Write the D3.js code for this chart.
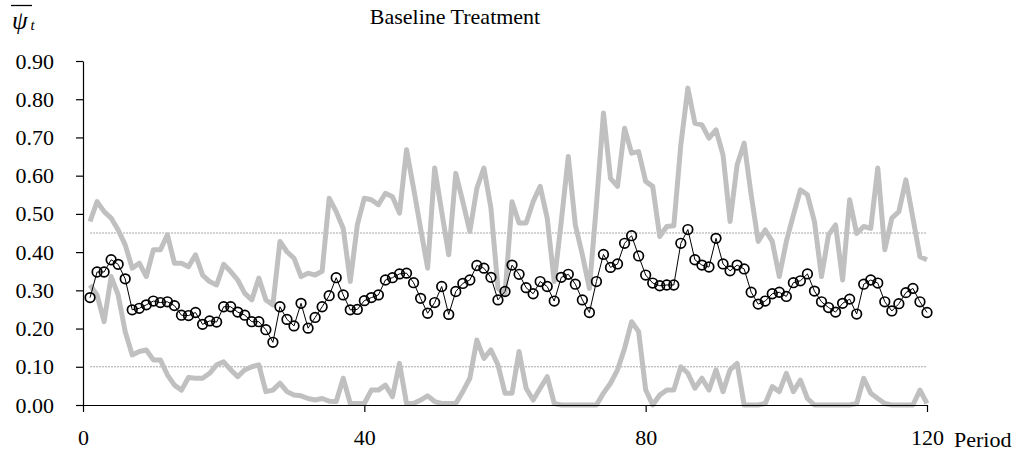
<!DOCTYPE html>
<html>
<head>
<meta charset="utf-8">
<script src="https://cdn.jsdelivr.net/npm/d3@7/dist/d3.min.js"></script>
<style>
  html, body { margin: 0; padding: 0; background: #fff; }
  svg { display: block; }
  text { font-family: "Liberation Serif", "Times New Roman", serif; fill: #000; }
</style>
</head>
<body>
<svg id="chart" width="1024" height="454"></svg>
<script>
const periods = d3.range(1, 121);

const meanPsi = [
  0.281,0.348,0.348,0.380,0.368,0.330,0.249,0.253,0.262,0.272,
  0.268,0.270,0.260,0.235,0.234,0.242,0.211,0.220,0.217,0.257,
  0.257,0.243,0.235,0.218,0.218,0.197,0.164,0.257,0.224,0.207,
  0.266,0.201,0.229,0.257,0.286,0.333,0.288,0.249,0.250,0.273,
  0.281,0.288,0.327,0.333,0.343,0.345,0.320,0.279,0.240,0.268,
  0.310,0.237,0.297,0.318,0.327,0.365,0.358,0.334,0.275,0.297,
  0.366,0.342,0.307,0.291,0.323,0.310,0.272,0.334,0.342,0.316,
  0.275,0.242,0.323,0.394,0.360,0.369,0.423,0.443,0.390,0.340,
  0.319,0.312,0.314,0.314,0.423,0.459,0.380,0.366,0.361,0.436,
  0.369,0.351,0.366,0.356,0.295,0.264,0.272,0.291,0.295,0.284,
  0.320,0.325,0.343,0.298,0.270,0.255,0.243,0.266,0.277,0.238,
  0.316,0.327,0.319,0.270,0.246,0.265,0.294,0.305,0.270,0.242
];

const upperPsi = [
  0.480,0.532,0.506,0.489,0.458,0.419,0.358,0.371,0.336,0.406,
  0.406,0.445,0.371,0.371,0.362,0.393,0.340,0.323,0.314,0.368,
  0.349,0.327,0.292,0.275,0.332,0.275,0.262,0.428,0.401,0.384,
  0.336,0.345,0.340,0.350,0.541,0.506,0.462,0.323,0.471,0.541,
  0.537,0.524,0.554,0.545,0.502,0.668,0.567,0.462,0.358,0.620,
  0.506,0.393,0.606,0.532,0.454,0.567,0.620,0.515,0.305,0.290,
  0.532,0.476,0.476,0.532,0.572,0.489,0.323,0.480,0.650,0.471,
  0.393,0.305,0.524,0.764,0.593,0.572,0.724,0.659,0.663,0.585,
  0.572,0.441,0.467,0.469,0.681,0.829,0.737,0.733,0.698,0.720,
  0.654,0.480,0.628,0.685,0.550,0.428,0.458,0.428,0.336,0.428,
  0.497,0.563,0.550,0.480,0.336,0.445,0.471,0.327,0.537,0.449,
  0.467,0.462,0.620,0.406,0.489,0.506,0.589,0.489,0.388,0.380
];

const lowerPsi = [
  0.314,0.288,0.218,0.336,0.288,0.192,0.131,0.140,0.144,0.118,
  0.118,0.079,0.052,0.039,0.072,0.070,0.070,0.083,0.105,0.113,
  0.092,0.074,0.092,0.100,0.105,0.035,0.039,0.057,0.035,0.026,
  0.024,0.017,0.013,0.017,0.010,0.009,0.070,0.004,0.004,0.004,
  0.039,0.039,0.052,0.022,0.109,0.004,0.004,0.013,0.024,0.009,
  0.004,0.004,0.004,0.035,0.070,0.170,0.122,0.144,0.105,0.031,
  0.031,0.140,0.044,0.013,0.044,0.074,0.004,0.000,0.000,0.000,
  0.000,0.000,0.000,0.031,0.057,0.092,0.148,0.218,0.192,0.040,
  0.000,0.026,0.039,0.039,0.100,0.083,0.044,0.070,0.039,0.092,
  0.035,0.092,0.109,0.000,0.000,0.000,0.004,0.048,0.035,0.083,
  0.035,0.065,0.017,0.000,0.000,0.000,0.000,0.000,0.000,0.004,
  0.070,0.031,0.017,0.004,0.000,0.000,0.000,0.000,0.039,0.004
];

const refLevels = [0.45, 0.10];
const xTicks = [0, 40, 80, 120];
const yTicks = [0, 0.1, 0.2, 0.3, 0.4, 0.5, 0.6, 0.7, 0.8, 0.9];
const titleText = "Baseline Treatment";
const xLabel = "Period";

const svg = d3.select("#chart");
const x = d3.scaleLinear().domain([0, 120]).range([83, 927]);
const y = d3.scaleLinear().domain([0, 0.9]).range([405, 61]);

// reference lines
svg.append("g").selectAll("line").data(refLevels).join("line")
  .attr("x1", x(1)).attr("x2", x(120))
  .attr("y1", d => y(d)).attr("y2", d => y(d))
  .attr("stroke", "#7f7f7f").attr("stroke-width", 0.7)
  .attr("stroke-dasharray", "2,1");

const line = d3.line().x((d, i) => x(periods[i])).y(d => y(d));

[upperPsi, lowerPsi].forEach(s => {
  svg.append("path").datum(s)
    .attr("d", line)
    .attr("fill", "none")
    .attr("stroke", "#c0c0c0")
    .attr("stroke-width", 5)
    .attr("stroke-linejoin", "round");
});

// axes
const yAxis = d3.axisLeft(y).tickValues(yTicks).tickFormat(d3.format(".2f"))
  .tickSize(7).tickSizeOuter(0).tickPadding(22);
const gy = svg.append("g").attr("transform", `translate(${x(0)},0)`).call(yAxis);

const xAxis = d3.axisBottom(x).tickValues(xTicks).tickFormat(d3.format("d"))
  .tickSize(7).tickSizeOuter(0).tickPadding(17);
const gx = svg.append("g").attr("transform", `translate(0,${y(0)})`).call(xAxis);

[gx, gy].forEach(g => {
  g.selectAll("path.domain").attr("stroke", "#000").attr("stroke-width", 1.2);
  g.selectAll(".tick line").attr("stroke", "#000").attr("stroke-width", 1.2);
  g.selectAll(".tick text")
    .style("font-family", '"Liberation Serif", "Times New Roman", serif')
    .style("font-size", "22px").attr("fill", "#000");
});

// mean line
svg.append("path").datum(meanPsi)
  .attr("d", line)
  .attr("fill", "none")
  .attr("stroke", "#000")
  .attr("stroke-width", 1);

svg.append("g").selectAll("circle").data(meanPsi).join("circle")
  .attr("cx", (d, i) => x(periods[i]))
  .attr("cy", d => y(d))
  .attr("r", 4.8)
  .attr("fill", "none")
  .attr("stroke", "#000")
  .attr("stroke-width", 1.7);

// title
svg.append("text")
  .attr("x", 455).attr("y", 24)
  .attr("text-anchor", "middle")
  .style("font-size", "22px")
  .text(titleText);

// x label
svg.append("text")
  .attr("x", 954).attr("y", 447)
  .style("font-size", "22px")
  .text(xLabel);

// psi-bar_t label
const lab = svg.append("text").attr("x", 12).attr("y", 29).style("font-size", "25px");
lab.append("tspan").style("font-style", "italic").text("ψ");
lab.append("tspan").style("font-style", "italic").style("font-size", "15px").attr("dx", 3).attr("dy", 1).text("t");
svg.append("line").attr("x1", 11).attr("x2", 32).attr("y1", 5.5).attr("y2", 5.5)
  .attr("stroke", "#000").attr("stroke-width", 1.3);
</script>
</body>
</html>
